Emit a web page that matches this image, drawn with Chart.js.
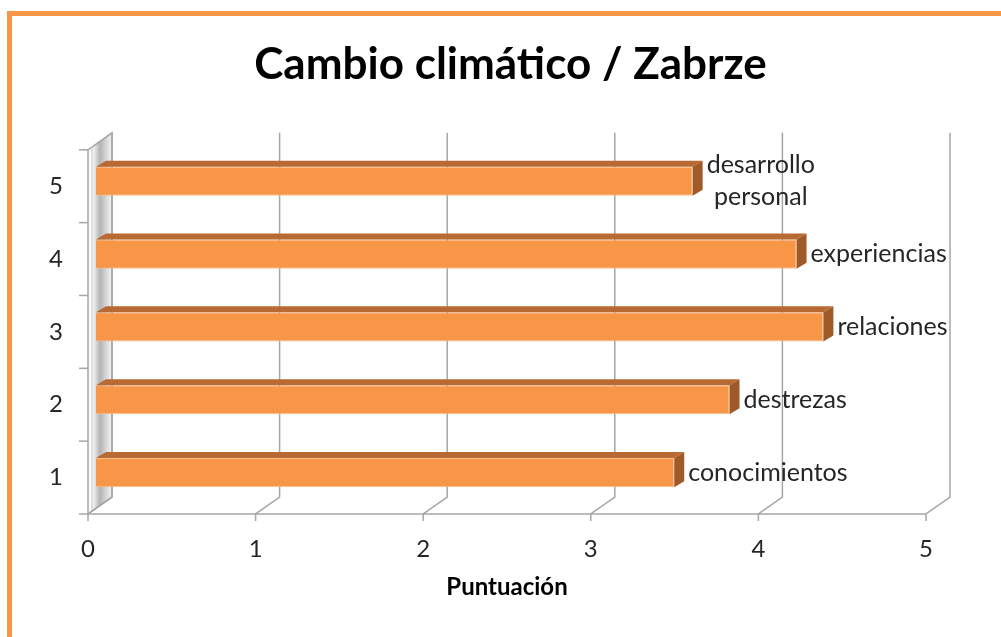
<!DOCTYPE html>
<html>
<head>
<meta charset="utf-8">
<script src="https://cdn.jsdelivr.net/npm/chart.js@4.4.0/dist/chart.umd.min.js"></script>
<style>
  html, body { margin: 0; padding: 0; background: #fff; }
  #wrap { position: relative; width: 1001px; height: 637px; overflow: hidden; }
  #frame { position: absolute; left: 7px; top: 11px; width: 1100px; height: 700px;
           border-top: 5px solid #f79646; border-left: 5px solid #f79646; }
  #chart { position: absolute; left: 0; top: 0; }
</style>
</head>
<body>
<div id="wrap">
  <div id="frame"></div>
  <canvas id="chart" width="1001" height="637"></canvas>
</div>
<script>
const categories = ['1', '2', '3', '4', '5'];
const scores = [3.45, 3.78, 4.34, 4.18, 3.56];
const barLabels = [['conocimientos'], ['destrezas'], ['relaciones'], ['experiencias'], ['desarrollo', 'personal']];
const xMin = 0, xMax = 5, xStep = 1;

// 3d look: floor/wall depth, bar shift inside the box, bar thickness
const DEPTH_X = 24, DEPTH_Y = -17;
const BAR_SHIFT_X = 8, BAR_SHIFT_Y = -5;
const BAR_DX = 10, BAR_DY = -6;
const GRID = '#a6a6a6';

Chart.defaults.font.family = 'Lato';

const box3d = {
    id: 'box3d',
    beforeDatasetsDraw(chart) {
        const { ctx, chartArea: a, scales: { x, y } } = chart;
        const L = a.left, T = a.top, B = a.bottom;
        ctx.save();

        // left side wall
        const g = ctx.createLinearGradient(L, 0, L + DEPTH_X, 0);
        g.addColorStop(0, '#ffffff');
        g.addColorStop(0.2, '#f6f6f6');
        g.addColorStop(0.5, '#b4b4b4');
        g.addColorStop(0.8, '#dcdcdc');
        g.addColorStop(1, '#f4f4f4');
        ctx.beginPath();
        ctx.moveTo(L, B);
        ctx.lineTo(L, T);
        ctx.lineTo(L + DEPTH_X, T + DEPTH_Y);
        ctx.lineTo(L + DEPTH_X, B + DEPTH_Y);
        ctx.closePath();
        ctx.fillStyle = g;
        ctx.fill();
        ctx.strokeStyle = GRID;
        ctx.lineWidth = 1.5;
        ctx.stroke();
        ctx.beginPath();
        ctx.moveTo(L + 4, B - 3);
        ctx.lineTo(L + 4, T - 3);
        ctx.strokeStyle = '#c8c8c8';
        ctx.lineWidth = 1;
        ctx.stroke();
        ctx.strokeStyle = GRID;
        ctx.lineWidth = 1.5;

        // floor front edge
        ctx.beginPath();
        ctx.moveTo(L, B);
        ctx.lineTo(a.right, B);
        ctx.stroke();

        // floor slants, back wall gridlines and tick marks
        x.ticks.forEach(t => {
            const px = x.getPixelForValue(t.value);
            ctx.beginPath();
            ctx.moveTo(px, B + 7);
            ctx.lineTo(px, B);
            ctx.lineTo(px + DEPTH_X, B + DEPTH_Y);
            ctx.lineTo(px + DEPTH_X, T + DEPTH_Y);
            ctx.stroke();
        });

        // category tick marks on the left
        for (let i = 0; i <= categories.length; i++) {
            const py = y.getPixelForValue(i - 0.5);
            ctx.beginPath();
            ctx.moveTo(L - 9, py);
            ctx.lineTo(L, py);
            ctx.stroke();
        }
        ctx.restore();

        // bars sit a bit inside the box
        ctx.save();
        ctx.translate(BAR_SHIFT_X, BAR_SHIFT_Y);
    },
    afterDatasetsDraw(chart) {
        const { ctx } = chart;
        const meta = chart.getDatasetMeta(0);

        meta.data.forEach(el => {
            const { x: x1, y: yc, base: x0, height: h } = el.getProps(['x', 'y', 'base', 'height'], true);
            const top = yc - h / 2, bot = yc + h / 2;
            // top face
            ctx.beginPath();
            ctx.moveTo(x0, top);
            ctx.lineTo(x1, top);
            ctx.lineTo(x1 + BAR_DX, top + BAR_DY);
            ctx.lineTo(x0 + BAR_DX, top + BAR_DY);
            ctx.closePath();
            ctx.fillStyle = '#b96a32';
            ctx.fill();
            // end face
            ctx.beginPath();
            ctx.moveTo(x1, top);
            ctx.lineTo(x1 + BAR_DX, top + BAR_DY);
            ctx.lineTo(x1 + BAR_DX, bot + BAR_DY);
            ctx.lineTo(x1, bot);
            ctx.closePath();
            ctx.fillStyle = '#a05a27';
            ctx.fill();
        });
        ctx.restore();

        // labels after each bar
        ctx.save();
        ctx.font = '25px Lato';
        ctx.fillStyle = '#262626';
        ctx.textBaseline = 'alphabetic';
        meta.data.forEach((el, i) => {
            const lines = barLabels[i];
            const left = el.x + BAR_SHIFT_X + BAR_DX + 4;
            const yc = el.y + BAR_SHIFT_Y;
            const w = Math.max(...lines.map(s => ctx.measureText(s).width));
            ctx.textAlign = 'center';
            lines.forEach((s, k) => {
                ctx.fillText(s, left + w / 2, yc + 8 + (k - (lines.length - 1) / 2) * 32);
            });
        });
        ctx.restore();
    }
};

new Chart(document.getElementById('chart'), {
    type: 'bar',
    data: {
        labels: categories,
        datasets: [{
            data: scores,
            backgroundColor: '#f79646',
            borderColor: '#fbbd8c',
            borderWidth: 1,
            barPercentage: 0.4,
            categoryPercentage: 1
        }]
    },
    options: {
        responsive: false,
        animation: false,
        indexAxis: 'y',
        layout: { padding: { top: 0, right: 0, bottom: 0, left: 20 } },
        plugins: {
            legend: { display: false },
            tooltip: { enabled: false },
            title: {
                display: true,
                text: 'Cambio climático / Zabrze',
                color: '#000',
                font: { size: 44, weight: 'bold' },
                padding: { top: 38, bottom: 59 }
            }
        },
        scales: {
            x: {
                min: xMin,
                max: xMax,
                ticks: { stepSize: xStep, color: '#262626', font: { size: 24 }, padding: 21 },
                grid: { display: false, drawTicks: false },
                border: { display: false },
                title: {
                    display: true,
                    text: 'Puntuación',
                    color: '#000',
                    font: { size: 24, weight: 'bold' },
                    padding: { top: 0, bottom: 35 }
                },
                afterFit: s => { s.height = 123; }
            },
            y: {
                reverse: true,
                ticks: { color: '#262626', font: { size: 24 }, padding: 25 },
                grid: { display: false, drawTicks: false },
                border: { display: false },
                afterFit: s => { s.width = 68; }
            },
            // empty right axis keeps room for the box depth and labels
            yRight: {
                type: 'category',
                position: 'right',
                grid: { display: false, drawTicks: false },
                border: { display: false },
                ticks: { display: false },
                afterFit: s => { s.width = 75; }
            }
        }
    },
    plugins: [box3d]
});
</script>
</body>
</html>
